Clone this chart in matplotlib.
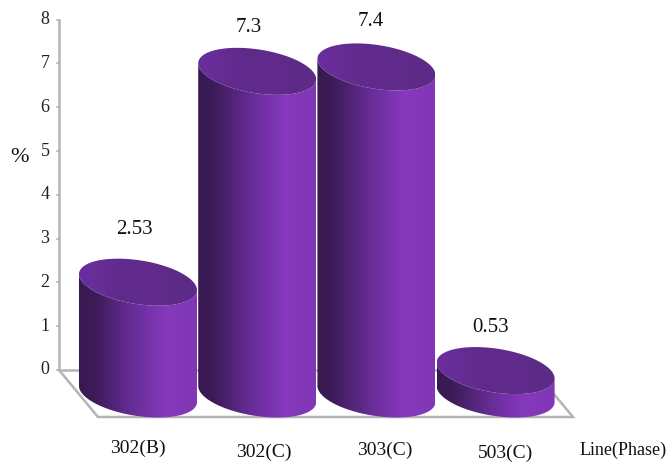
import numpy as np
import matplotlib
matplotlib.use("Agg")
import matplotlib.pyplot as plt
from matplotlib.colors import LinearSegmentedColormap
from matplotlib.patches import Polygon

categories = ["302(B)", "302(C)", "303(C)", "503(C)"]
values = [2.53, 7.3, 7.4, 0.53]
value_labels = ["2.53", "7.3", "7.4", "0.53"]
y_ticks = [0, 1, 2, 3, 4, 5, 6, 7, 8]

# pixel mapping of the picture: category centres 119 px apart, 44.2 px per unit
FIG_W, FIG_H = 669, 463
PX_X0, PX_DX = 138.0, 119.2
PX_Y0, PX_DY = 394.0, 44.2


def px_x(p):
    return (p - PX_X0) / PX_DX


def px_y(p):
    return (PX_Y0 - p) / PX_DY


plt.rcParams["font.family"] = ["Liberation Serif", "DejaVu Serif"]

fig = plt.figure(figsize=(FIG_W / 100, FIG_H / 100), dpi=100)
ax = fig.add_axes([0, 0, 1, 1])
ax.axis("off")

WALL = px_y(370)  # value 0 on the back wall sits above the bar base
WALL_SCALE = 43.8 / PX_DY  # the drawn axis is a little shorter than the bars
GRID = "#b4b4b4"

# axis and floor
wall_x = px_x(59)
ax.plot([wall_x, wall_x], [WALL, WALL + 8 * WALL_SCALE], color=GRID, lw=1.8, zorder=1)
ax.plot([wall_x, px_x(98), px_x(573), px_x(553)],
        [WALL, px_y(417), px_y(417), px_y(393)], color=GRID, lw=1.8, zorder=1, solid_joinstyle="miter")
ax.plot([wall_x, px_x(530)], [WALL, WALL], color=GRID, lw=1.8, zorder=1)
for t in y_ticks:
    y = WALL + t * WALL_SCALE
    ax.plot([wall_x - 2.5 / PX_DX, wall_x], [y, y], color=GRID, lw=1.2, zorder=1)
    ax.text(px_x(45), y, str(t), ha="center", va="center", fontsize=13, color="#222222")

body_cmap = LinearSegmentedColormap.from_list(
    "body", [(0, "#38194f"), (0.13, "#3c1c58"), (0.45, "#662d96"), (0.74, "#8639bd"), (1, "#8036b5")])
top_cmap = LinearSegmentedColormap.from_list(
    "top", [(0, "#6a2e9f"), (0.35, "#612b8d"), (1, "#5e2a87")])

HALF_W = 59 / PX_DX
TILT = 8 / PX_DY
DEPTH = 22.1 / PX_DY
theta = np.linspace(0, 2 * np.pi, 200)
front = np.linspace(0, np.pi, 100)
grad = np.linspace(0, 1, 256).reshape(1, -1)


def ring(i, v, t):
    return i + HALF_W * np.cos(t), v - TILT * np.cos(t) - DEPTH * np.sin(t)


for i, v in enumerate(values):
    xb, yb = ring(i, 0, front)
    xt, yt = ring(i, v, theta)
    xf, yf = ring(i, v, front[::-1])
    body = Polygon(np.c_[np.r_[xb, xf], np.r_[yb, yf]], closed=True, transform=ax.transData, fc="none", ec="none")
    top = Polygon(np.c_[xt, yt], closed=True, transform=ax.transData, fc="none", ec="none")
    ax.add_patch(body)
    ax.add_patch(top)
    z = 2 + i
    ext = [i - HALF_W, i + HALF_W, -DEPTH - TILT, v + DEPTH + TILT]
    im = ax.imshow(grad, cmap=body_cmap, extent=ext, aspect="auto", zorder=z, interpolation="bilinear")
    im.set_clip_path(body)
    im2 = ax.imshow(grad, cmap=top_cmap, extent=ext, aspect="auto", zorder=z + 0.5, interpolation="bilinear")
    im2.set_clip_path(top)

# value labels, category labels sit unevenly in the picture
label_px = [(134, 229), (249, 27), (371, 21), (491, 327)]
for (px, py), s in zip(label_px, value_labels):
    ax.text(px_x(px), px_y(py), s, ha="center", va="center", fontsize=15, color="#111111")

cat_px = [(138, 448), (264, 452), (385, 450), (506, 453)]
for (px, py), s in zip(cat_px, categories):
    ax.text(px_x(px), px_y(py), s, ha="center", va="center", fontsize=14, color="#111111")

ax.text(px_x(623), px_y(450), "Line(Phase)", ha="center", va="center", fontsize=13, color="#111111")
ax.text(px_x(19), px_y(157), "%", ha="center", va="center", fontsize=16, color="#111111")

ax.set_xlim(px_x(0), px_x(FIG_W))
ax.set_ylim(px_y(FIG_H), px_y(0))

fig.savefig("out.png", dpi=100)
